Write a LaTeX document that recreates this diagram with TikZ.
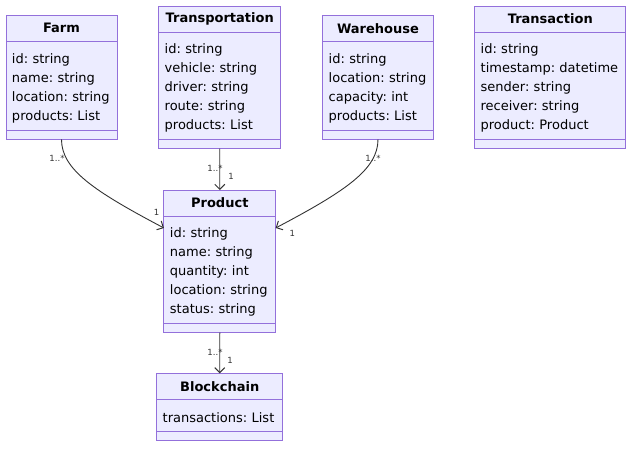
\documentclass[tikz,border=0pt]{standalone}
\usepackage{fontspec}
\setmainfont{DejaVu Sans}
\usetikzlibrary{arrows.meta,positioning}
\definecolor{classfill}{HTML}{ECECFF}
\definecolor{classline}{HTML}{9370DB}
\definecolor{edgeline}{HTML}{333333}

\begin{document}
\begin{tikzpicture}[
    x=1pt,y=-1pt,
    box/.style={draw=classline, fill=classfill, line width=1pt, outer sep=0pt,
      inner ysep=0pt},
    head/.style={box, minimum height=26pt, font=\fontsize{13}{19}\selectfont\bfseries},
    attr/.style={box, align=left, inner xsep=6pt, font=\fontsize{13}{19}\selectfont,
      execute at begin node={\frenchspacing\hyphenpenalty=10000\relax\rule{0pt}{15pt}}},
    foot/.style={box, minimum height=9.4pt},
    card/.style={font=\fontsize{8.5}{10}\selectfont, text=edgeline, inner sep=0pt},
    edge/.style={draw=edgeline, line width=0.9pt,
      -{Straight Barb[length=5pt,width=10pt,line width=1pt]}}
  ]
    \useasboundingbox (0,0) rectangle (640,453);

    \node[head, minimum width=111pt] (farm) at (61.5,28.3) {Farm};
    \node[attr, text width=99pt, minimum height=88.7pt, below=0pt of farm] (farm-attr)
      {id: string\\name: string\\location: string\\products: List};
    \node[foot, minimum width=111pt, below=0pt of farm-attr] (farm-foot) {};

    \node[head, minimum width=122pt] (transportation) at (219.7,19) {Transportation};
    \node[attr, text width=110pt, minimum height=107.3pt, below=0pt of transportation]
      (transportation-attr)
      {id: string\\vehicle: string\\driver: string\\route: string\\products: List};
    \node[foot, minimum width=122pt, below=0pt of transportation-attr] (transportation-foot) {};

    \node[head, minimum width=110.6pt] (warehouse) at (378,28.3) {Warehouse};
    \node[attr, text width=98.6pt, minimum height=88.7pt, below=0pt of warehouse]
      (warehouse-attr)
      {id: string\\location: string\\capacity: int\\products: List};
    \node[foot, minimum width=110.6pt, below=0pt of warehouse-attr] (warehouse-foot) {};

    \node[head, minimum width=151.3pt] (transaction) at (550.3,19) {Transaction};
    \node[attr, text width=139.3pt, minimum height=107.3pt, below=0pt of transaction]
      (transaction-attr)
      {id: string\\timestamp: datetime\\sender: string\\receiver: string\\product: Product};
    \node[foot, minimum width=151.3pt, below=0pt of transaction-attr] (transaction-foot) {};

    \node[head, minimum width=111.7pt] (product) at (219.8,203) {Product};
    \node[attr, text width=99.7pt, minimum height=107.3pt, below=0pt of product]
      (product-attr)
      {id: string\\name: string\\quantity: int\\location: string\\status: string};
    \node[foot, minimum width=111.7pt, below=0pt of product-attr] (product-foot) {};

    \node[head, minimum width=126pt] (blockchain) at (219.7,386.3) {Blockchain};
    \node[attr, text width=114pt, minimum height=32pt, below=0pt of blockchain]
      (blockchain-attr) {transactions: List};
    \node[foot, minimum width=126pt, below=0pt of blockchain-attr] (blockchain-foot) {};

    \draw[edge] (farm-foot.south) .. controls +(0,30) and +(-70,-37)
      .. ([yshift=-12pt]product-attr.north west);
    \draw[edge] (transportation-foot.south) -- (product.north);
    \draw[edge] (warehouse-foot.south) .. controls +(0,30) and +(70,-37)
      .. ([yshift=-12pt]product-attr.north east);
    \draw[edge] (product-foot.south) -- (blockchain.north);

    \node[card] (farm-many) at (57,158.3) {1..*};
    \node[card] (farm-one) at (156.7,212.3) {1};
    \node[card] (transportation-many) at (215,168.3) {1..*};
    \node[card] (transportation-one) at (231,176.7) {1};
    \node[card] (warehouse-many) at (373,158.3) {1..*};
    \node[card] (warehouse-one) at (292.3,233.3) {1};
    \node[card] (product-many) at (215,352.3) {1..*};
    \node[card] (product-one) at (230,360.7) {1};
  \end{tikzpicture}
\end{document}
